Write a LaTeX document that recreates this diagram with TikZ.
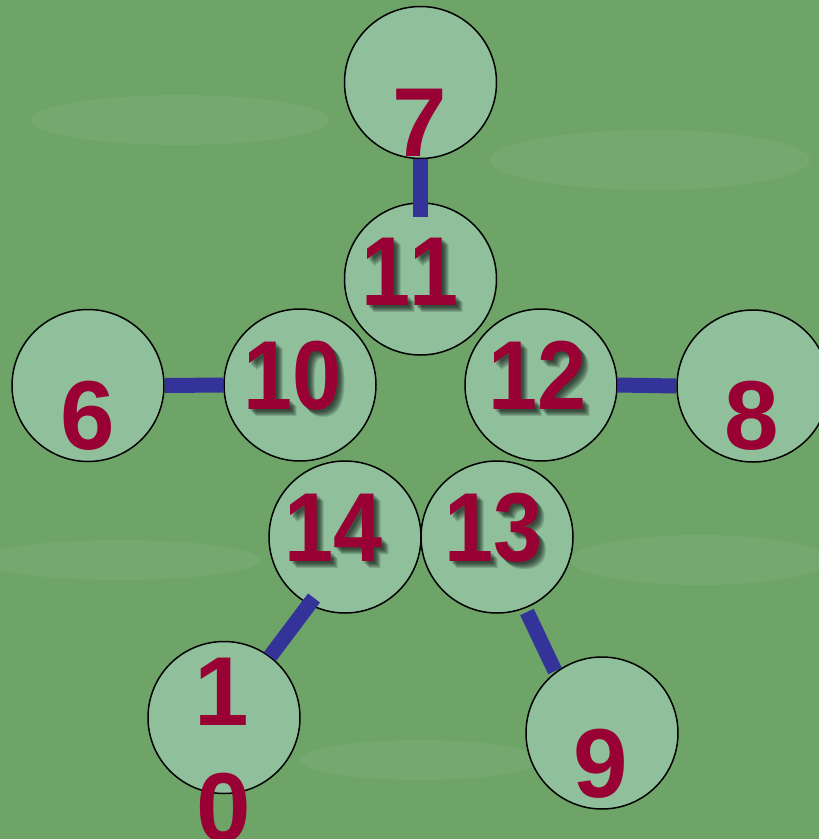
\documentclass[tikz,border=0pt]{standalone}
\usepackage{fontspec}
\setmainfont{Liberation Sans}
\usetikzlibrary{calc}
\definecolor{bgreen}{RGB}{110,164,104}
\definecolor{ballfill}{RGB}{143,192,155}
\definecolor{numred}{RGB}{153,0,51}
\definecolor{bondblue}{RGB}{51,51,153}
\newcommand\bigdigits{\fontsize{98}{116}\selectfont\bfseries}
\newcommand\shadnum[3]{%
  \foreach \d in {2,3,4,5,6,7}{\node[shad] at ($(#1,#2)+(\d,\d)$) {#3};}%
  \node[num,xscale=0.9] at (#1,#2) {#3};}
\begin{document}
\begin{tikzpicture}[x=1pt,y=-1pt,
  ball/.style={circle,draw=black,line width=1.5pt,fill=ballfill,minimum size=152pt,inner sep=0pt},
  bond/.style={draw=bondblue,line width=15pt},
  num/.style={text=numred,font=\bigdigits,anchor=base,inner sep=0pt},
  shad/.style={text=black,text opacity=0.14,font=\bigdigits,anchor=base,inner sep=0pt,xscale=0.9}]
\fill[bgreen] (0,0) rectangle (819,839);
\useasboundingbox (0,0) rectangle (819,839);
% faint background mottling
\begin{scope}[opacity=0.05]
\fill[white] (180,120) ellipse (150 and 25);
\fill[white] (650,160) ellipse (160 and 30);
\fill[white] (120,560) ellipse (140 and 20);
\fill[white] (700,560) ellipse (130 and 25);
\fill[white] (420,760) ellipse (120 and 20);
\end{scope}
% circles
\node[ball] (n7) at (420.5,82.5) {};
\node[ball] (n11) at (420.5,279) {};
\node[ball] (n10) at (300,385) {};
\node[ball] (n12) at (541,385) {};
\node[ball] (n6) at (88,385.5) {};
\node[ball] (n8) at (753,386) {};
\node[ball] (n14) at (345,537) {};
\node[ball] (n13) at (497,537) {};
\node[ball] (n10b) at (224,717.5) {};
\node[ball] (n9) at (602,733) {};
% bonds
\draw[bond] (n7.south) -- ($(n11.north)+(0,15)$);
\draw[bond] (n6.east) -- (n10.west);
\draw[bond] (n12.east) -- (n8.west);
\draw[bond] ($(n14)+(-31,61)$) -- ($(n10b)+(46,-61)$);
\draw[bond] ($(n13)+(30,75)$) -- ($(n9)+(-47,-62)$);
% numbers
\node[num] (t7) at (420,156) {7};
\shadnum{410}{305}{1\kern-2pt1}
\shadnum{293}{409}{10}
\shadnum{538}{409}{12}
\shadnum{334}{561}{14}
\shadnum{494}{561}{13}
\node[num] (t6) at (88,449) {6};
\node[num] (t8) at (752,449) {8};
\node[num] (t9) at (601,797) {9};
\node[num] (t10a) at (222,725) {1};
\node[num] (t10b) at (224,841) {0};
\end{tikzpicture}
\end{document}
